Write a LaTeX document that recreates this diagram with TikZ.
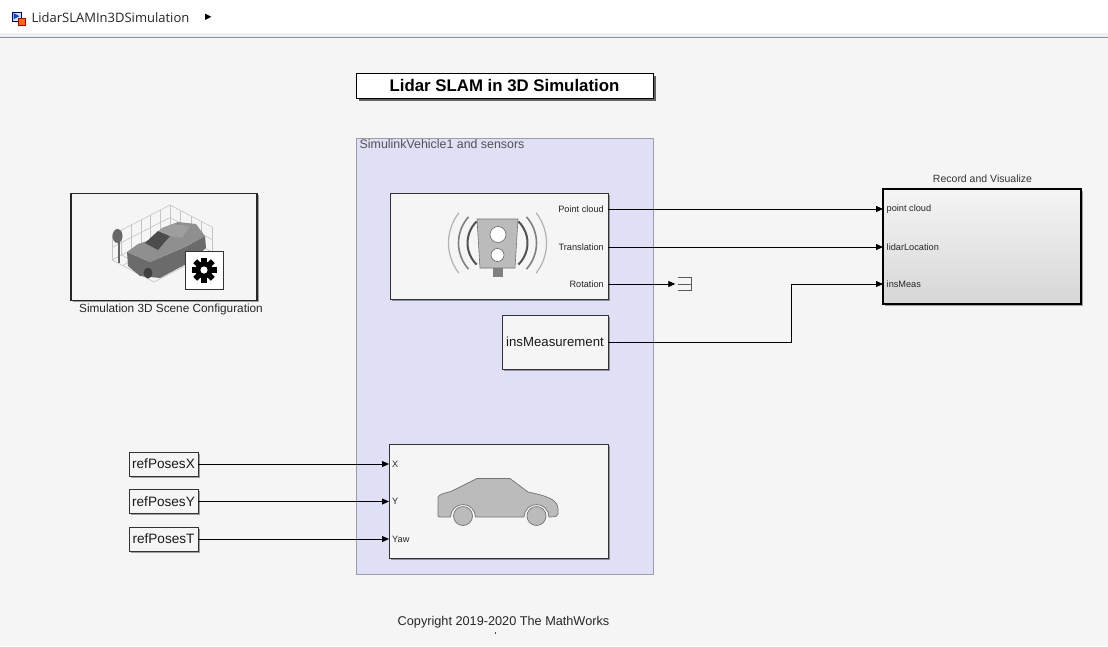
\documentclass[tikz,border=0pt]{standalone}
\usepackage{fontspec}
\setmainfont{Liberation Sans}
\newfontfamily\uifont{Open Sans}
\newfontfamily\symfont{DejaVu Sans}
\usetikzlibrary{arrows.meta,shadows,calc}

\definecolor{canvas}{HTML}{F5F5F5}
\definecolor{blockfill}{HTML}{F5F5F5}
\definecolor{subsys}{HTML}{DFDFF6}
\definecolor{subsysline}{HTML}{9C9CAA}
\definecolor{iconfill}{HTML}{BBBBBB}
\definecolor{sepline}{HTML}{8A93A0}
\definecolor{gridline}{HTML}{C4C4C4}

\tikzset{
  sig/.style={draw=black, line width=0.8pt, -{Triangle[length=7pt,width=6pt]}},
  block/.style={draw=black!80, line width=0.9pt, fill=blockfill, inner sep=0pt,
    drop shadow={shadow xshift=1.5pt, shadow yshift=-1.5pt, opacity=0.35, fill=black}},
  portlabel/.style={font=\fontsize{9.2}{11}\selectfont, text=black!85, inner sep=0pt},
  blocktext/.style={font=\fontsize{13.2}{15}\selectfont, text=black!90},
  caption/.style={font=\fontsize{10.5}{12}\selectfont, text=black!80, inner sep=0pt},
}

\begin{document}
\begin{tikzpicture}[x=1pt, y=-1pt]
\useasboundingbox (0,0) rectangle (1108,646);

% canvas and model header
\fill[canvas] (0,0) rectangle (1108,646);
\fill[white] (0,0) rectangle (1108,33);
\fill[black!6] (0,33) rectangle (1108,37);
\draw[sepline, line width=1.5pt] (0,37.5) -- (1108,37.5);

\node[inner sep=0, minimum width=13pt, minimum height=13pt] (modelicon) at (18.5,18.5) {};
\filldraw[fill=blue!12, draw=blue!55!black, line width=0.5pt] (12,12) rectangle (21,21);
\fill[blue!60!cyan!80!black] (13.5,13) -- (19.5,16.2) -- (13.5,19.4) -- cycle;
\filldraw[fill=orange!85!red, draw=red!70!black, line width=0.5pt] (18,18) rectangle (25,25);
\node[anchor=west, inner sep=0, font=\uifont\fontsize{13}{15}\selectfont, text=black!85] (modelname) at (31.5,17.5) {LidarSLAMIn3DSimulation};
\node[anchor=west, inner sep=0, font=\symfont\fontsize{8.5}{9}\selectfont] (crumb) at (205,17.5) {▶};

% annotation title
\node[draw=black, line width=1pt, fill=white, minimum width=297pt, minimum height=25pt,
      drop shadow={shadow xshift=3pt, shadow yshift=-3pt, opacity=0.75, fill=black!80},
      font=\bfseries\fontsize{16.8}{19}\selectfont] (title) at (504.5,85.5) {Lidar SLAM in 3D Simulation};

% subsystem area
\node[draw=subsysline, line width=1pt, fill=subsys, minimum width=297pt, minimum height=436pt, inner sep=0] (area) at (504.5,356) {};
\node[anchor=north west, inner sep=0, font=\fontsize{12.4}{14}\selectfont, text=black!68] (arealabel) at (359.5,139) {SimulinkVehicle1 and sensors};

% Simulation 3D Scene Configuration block
\node[block, draw=black!85, line width=1.2pt, minimum width=186pt, minimum height=107pt] (sim3d) at (164,247) {};
\node[caption, font=\fontsize{11.8}{13}\selectfont, text=black!85] (sim3dlabel) at (171,309.5) {Simulation 3D Scene Configuration};
% isometric floor and walls
\coordinate (L) at (112,260); \coordinate (B) at (170,230);
\coordinate (R) at (212,252); \coordinate (F) at (154,282);
\coordinate (Lt) at (112,235); \coordinate (Bt) at (170,205); \coordinate (Rt) at (212,227);
\fill[white!96!black] (L) -- (Lt) -- (Bt) -- (Rt) -- (R) -- (F) -- cycle;
\begin{scope}[draw=gridline, line width=0.6pt]
  \foreach \f in {0,0.1667,0.3333,0.5,0.6667,0.8333,1} {
    \draw ($(L)!\f!(B)$) -- ($(F)!\f!(R)$);
    \draw ($(L)!\f!(B)$) -- ($(Lt)!\f!(Bt)$);
  }
  \foreach \g in {0,0.25,0.5,0.75,1} {
    \draw ($(B)!\g!(R)$) -- ($(L)!\g!(F)$);
    \draw ($(B)!\g!(R)$) -- ($(Bt)!\g!(Rt)$);
  }
  \draw ($(L)!.5!(Lt)$) -- ($(B)!.5!(Bt)$) -- ($(R)!.5!(Rt)$);
  \draw (Lt) -- (Bt) -- (Rt);
\end{scope}
% sign post
\draw[black!60, line width=1.4pt] (119,240) -- (119,263);
\fill[black!60] (117.5,236) ellipse [x radius=5pt, y radius=7pt];
% car
\fill[black!58] (127,252) -- (150,262) -- (185,247) -- (205,236) -- (206,248) -- (190,262) -- (160,278) -- (140,276) -- (128,266) -- cycle;
\fill[black!44] (127,252) -- (138,244) -- (150,240) -- (162,228) -- (178,222) -- (196,224) -- (205,236) -- (185,247) -- (150,262) -- cycle;
\fill[black!70] (145,243) -- (158,231) -- (170,236) -- (158,250) -- cycle;
\fill[black!38] (158,231) -- (172,224) -- (190,226) -- (182,238) -- (170,236) -- cycle;
\fill[black!75] (148,273) ellipse [x radius=4.5pt, y radius=5.5pt];
\fill[black!75] (193,256) ellipse [x radius=4pt, y radius=5pt];
% configuration gear
\filldraw[fill=white, draw=black!80, line width=0.6pt] (185,251) rectangle (223,289);
\begin{scope}[shift={(204,270)}]
  \fill[black] (0,0) circle (8.5pt);
  \foreach \a in {0,45,...,315} \fill[black, rotate=\a] (-2.7,6) rectangle (2.7,12.5);
  \fill[white] (0,0) circle (3.6pt);
\end{scope}

% lidar sensor block
\node[block, minimum width=218pt, minimum height=106pt] (lidar) at (499,246) {};
\coordinate (lidarPC) at (608,209);
\coordinate (lidarTr) at (608,247);
\coordinate (lidarRot) at (608,284);
\node[portlabel, anchor=east] (lpc) at ([xshift=-4pt]lidarPC) {Point cloud};
\node[portlabel, anchor=east] (ltr) at ([xshift=-4pt]lidarTr) {Translation};
\node[portlabel, anchor=east] (lrot) at ([xshift=-4pt]lidarRot) {Rotation};
% lidar icon
\coordinate (lc) at (497.5,243);
\foreach \r/\s/\c/\w in {30/46/black!68/2.0pt, 39/42/black!50/1.6pt, 49/38/black!30/1.2pt} {
  \draw[\c, line width=\w] ([shift={(-\s:\r pt)}]lc) arc[start angle=-\s, end angle=\s, radius=\r pt];
  \draw[\c, line width=\w] ([shift={(180-\s:\r pt)}]lc) arc[start angle=180-\s, end angle=180+\s, radius=\r pt];
}
\fill[black!50] (493,267) rectangle (503,277);
\filldraw[fill=iconfill, draw=black!55, line width=0.6pt] (477,219) -- (518,219) -- (515,268) -- (480,268) -- cycle;
\filldraw[fill=white, draw=black!60, line width=0.6pt] (498,234.5) circle (8pt);
\filldraw[fill=white, draw=black!60, line width=0.6pt] (497.5,255) circle (6.5pt);

% terminator on Rotation
\node[inner sep=0, minimum width=13pt, minimum height=12pt] (term) at (684.5,284) {};
\draw[black!65, line width=0.8pt] (term.north west) -- (term.north east) -- (term.south east) -- (term.south west);
\draw[black!65, line width=0.8pt] (term.west) -- (term.east);

% insMeasurement block
\node[block, minimum width=106pt, minimum height=54pt, blocktext] (ins) at (555,342) {insMeasurement};

% vehicle block
\node[block, minimum width=219pt, minimum height=114pt] (veh) at (498.5,501) {};
\coordinate (vehX) at (389,464);
\coordinate (vehY) at (389,501.5);
\coordinate (vehYaw) at (389,539);
\node[portlabel, anchor=west] (vx) at ([xshift=3pt]vehX) {X};
\node[portlabel, anchor=west] (vy) at ([xshift=3pt]vehY) {Y};
\node[portlabel, anchor=west] (vyaw) at ([xshift=3pt]vehYaw) {Yaw};
% vehicle icon
\filldraw[fill=iconfill, draw=black!55, line width=0.7pt, line join=round]
  (438,516) -- (438,497) .. controls (439,494) and (446,493) .. (452,491)
  -- (477,478.5) -- (510,478.5) -- (528,492) .. controls (538,494) and (545,496) .. (549,498)
  .. controls (556,501) and (558,505) .. (558,509) -- (558,514) .. controls (558,516) and (556,517) .. (550,517)
  -- (549,517) arc[start angle=0, end angle=180, radius=12.5pt]
  -- (475.5,517) arc[start angle=0, end angle=180, radius=12.5pt]
  -- (441,517) .. controls (439,517) and (438,517) .. (438,516) -- cycle;
\filldraw[fill=iconfill, draw=black!55, line width=0.7pt] (463,516) circle (9.5pt);
\filldraw[fill=iconfill, draw=black!55, line width=0.7pt] (536.5,516) circle (9.5pt);

% reference pose sources
\node[block, minimum width=69pt, minimum height=24pt, blocktext, font=\fontsize{13.6}{15}\selectfont] (rx) at (163.5,464) {refPosesX};
\node[block, minimum width=69pt, minimum height=24pt, blocktext, font=\fontsize{13.6}{15}\selectfont] (ry) at (163.5,501.5) {refPosesY};
\node[block, minimum width=69pt, minimum height=24pt, blocktext, font=\fontsize{13.6}{15}\selectfont] (rt) at (163.5,539) {refPosesT};

% Record and Visualize block
\node[draw=black, line width=1.8pt, top color=white!96!black, bottom color=black!16, inner sep=0,
      minimum width=198pt, minimum height=115pt,
      drop shadow={shadow xshift=2pt, shadow yshift=-2pt, opacity=0.35, fill=black}] (rec) at (982,246.5) {};
\node[caption] (reclabel) at (982.5,178.5) {Record and Visualize};
\coordinate (recPC) at (883,209);
\coordinate (recLoc) at (883,247);
\coordinate (recIns) at (883,284);
\node[portlabel, anchor=west] (rpc) at ([xshift=3.5pt]recPC) {point cloud};
\node[portlabel, anchor=west] (rloc) at ([xshift=3.5pt]recLoc) {lidarLocation};
\node[portlabel, anchor=west] (rins) at ([xshift=3.5pt]recIns) {insMeas};

% signal lines
\draw[sig] (lidarPC) -- (recPC);
\draw[sig] (lidarTr) -- (recLoc);
\draw[sig] (lidarRot) -- ([xshift=-2.5pt]term.west);
\coordinate (insBend) at (791,0);
\draw[sig] (ins.east) -| (insBend |- recIns) -- (recIns);
\draw[sig] (rx.east) -- (vehX);
\draw[sig] (ry.east) -- (vehY);
\draw[sig] (rt.east) -- (vehYaw);

% footer
\node[font=\fontsize{12.7}{15}\selectfont, text=black!85] (copyright) at (503.5,622) {Copyright 2019-2020 The MathWorks};
\fill[black!70] (495,632) rectangle (496,634);
\end{tikzpicture}
\end{document}
